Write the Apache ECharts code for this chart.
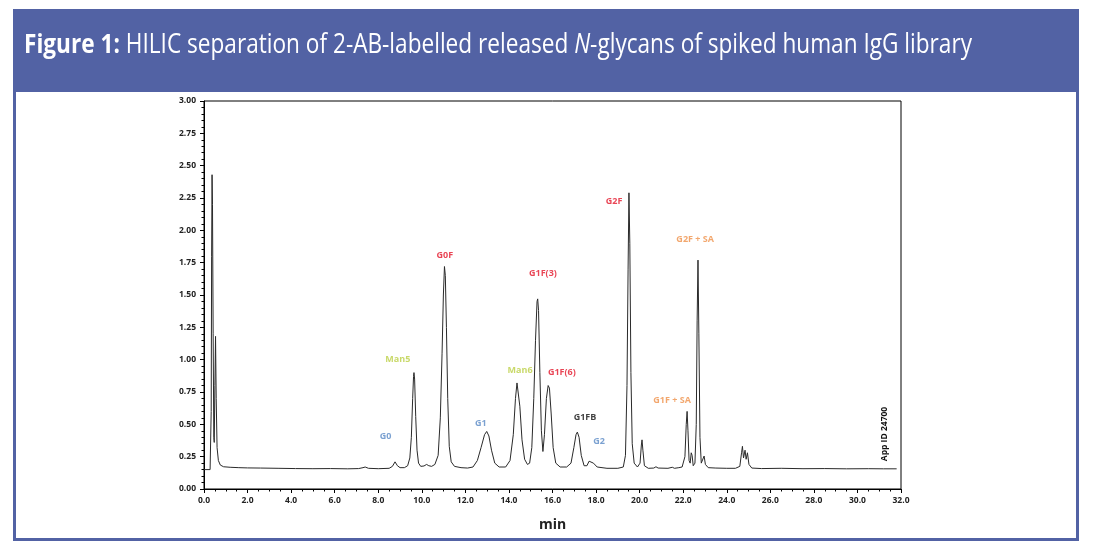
<!DOCTYPE html>
<html><head><meta charset="utf-8">
<script src="https://cdn.jsdelivr.net/npm/echarts@6/dist/echarts.min.js"></script>
<style>html,body{margin:0;padding:0;background:#fff}#c{width:1094px;height:550px}</style>
</head><body><div id="c"></div>
<script>
// Retention time (min)
const times = [0.00,0.28,0.31,0.33,0.35,0.37,0.39,0.42,0.45,0.47,0.50,0.53,0.56,0.60,0.66,0.75,0.90,1.20,1.60,2.00,2.60,3.40,4.20,5.00,5.80,6.60,7.10,7.30,7.40,7.55,8.00,8.50,8.65,8.77,8.88,9.00,9.20,9.35,9.45,9.52,9.58,9.62,9.64,9.67,9.72,9.78,9.85,9.95,10.10,10.22,10.32,10.45,10.60,10.75,10.85,10.93,10.99,11.04,11.08,11.13,11.19,11.26,11.35,11.50,11.80,12.10,12.35,12.55,12.72,12.88,12.98,13.08,13.20,13.35,13.55,13.85,14.05,14.20,14.30,14.37,14.42,14.50,14.60,14.72,14.85,14.95,15.05,15.14,15.22,15.29,15.32,15.36,15.42,15.49,15.56,15.63,15.72,15.80,15.86,15.94,16.03,16.15,16.35,16.65,16.85,16.98,17.08,17.14,17.22,17.32,17.45,17.58,17.68,17.76,17.88,18.05,18.50,19.00,19.25,19.35,19.42,19.47,19.51,19.55,19.60,19.66,19.75,19.90,20.02,20.08,20.11,20.15,20.22,20.40,20.65,20.75,20.85,21.30,21.50,21.60,21.80,21.95,22.08,22.14,22.18,22.22,22.27,22.32,22.37,22.41,22.46,22.54,22.60,22.64,22.68,22.72,22.77,22.83,22.90,22.96,23.02,23.15,23.50,24.00,24.40,24.60,24.68,24.72,24.77,24.84,24.89,24.95,25.02,25.15,25.60,26.50,27.50,28.50,29.50,30.50,31.20,31.80];
// Fluorescence signal
const signal = [0.150,0.150,0.160,0.60,1.80,2.43,2.20,1.20,0.40,0.36,0.80,1.18,0.70,0.32,0.22,0.185,0.172,0.168,0.165,0.163,0.162,0.160,0.158,0.157,0.158,0.156,0.158,0.165,0.170,0.160,0.157,0.160,0.175,0.210,0.180,0.165,0.165,0.180,0.240,0.400,0.700,0.870,0.900,0.850,0.560,0.300,0.200,0.175,0.178,0.190,0.180,0.175,0.190,0.260,0.550,1.050,1.500,1.720,1.650,1.250,0.700,0.330,0.210,0.175,0.165,0.162,0.170,0.220,0.320,0.420,0.445,0.410,0.300,0.200,0.170,0.170,0.220,0.420,0.700,0.820,0.810,0.640,0.380,0.230,0.190,0.200,0.320,0.700,1.150,1.450,1.470,1.380,0.900,0.450,0.290,0.420,0.700,0.800,0.780,0.580,0.320,0.200,0.170,0.170,0.200,0.320,0.420,0.440,0.400,0.260,0.180,0.180,0.215,0.222,0.200,0.170,0.160,0.160,0.170,0.260,0.800,1.700,2.290,1.900,0.900,0.350,0.200,0.170,0.200,0.340,0.380,0.300,0.180,0.160,0.162,0.172,0.162,0.160,0.168,0.160,0.165,0.170,0.250,0.500,0.600,0.450,0.220,0.200,0.280,0.260,0.180,0.200,0.500,1.300,1.770,1.200,0.400,0.200,0.210,0.255,0.190,0.165,0.162,0.160,0.160,0.175,0.280,0.330,0.240,0.300,0.230,0.280,0.190,0.162,0.158,0.160,0.157,0.158,0.156,0.157,0.156,0.156];
// Peak annotations (text, time, signal position, colour group)
const peakNames  = ['G0','Man5','G0F','G1','Man6','G1F(3)','G1F(6)','G1FB','G2','G2F','G2F + SA','G1F + SA'];
const peakLabelT = [8.34,8.90,11.06,12.71,14.51,15.56,16.43,17.49,18.14,18.83,22.55,21.49];
const peakLabelV = [0.406,1.003,1.808,0.507,0.917,1.668,0.902,0.554,0.368,2.226,1.932,0.685];
const peakGroup  = ['blue','green','red','blue','green','red','red','black','blue','red','orange','orange'];
const xTicks = ['0.0','2.0','4.0','6.0','8.0','10.0','12.0','14.0','16.0','18.0','20.0','22.0','24.0','26.0','28.0','30.0','32.0'];

const groupColor = {blue:'#5a8ac6', green:'#bccf45', red:'#e3172a', black:'#111111', orange:'#ef914a'};
const frame = '#5262a4';

const chart = echarts.init(document.getElementById('c'), null, {renderer:'canvas'});

// title width fitting
const titleParts = [['Figure 1:','bold'],[' HILIC separation of 2-AB-labelled released ','normal'],['N','italic'],['-glycans of spiked human IgG library','normal']];
const TF = 27, TFam = '"Open Sans"';
const cx = document.createElement('canvas').getContext('2d');
let tw = 0;
titleParts.forEach(p=>{
  cx.font = (p[1]==='bold'?'bold ':p[1]==='italic'?'italic ':'') + TF + 'px ' + TFam;
  tw += cx.measureText(p[0]).width;
});
const sx = 948 / tw;

const lineData = times.map((t,i)=>[t, signal[i]]);
const labelData = peakNames.map((n,i)=>({
  value:[peakLabelT[i], peakLabelV[i]], name:n,
  label:{color: groupColor[peakGroup[i]]}
}));

chart.setOption({
  animation:false,
  backgroundColor:'#fff',
  grid:{left:204, right:193, top:101, bottom:61, show:true, borderColor:'#000', borderWidth:1},
  xAxis:{
    type:'value', min:0, max:32, interval:2,
    name:'min', nameLocation:'middle', nameGap:29,
    nameTextStyle:{fontFamily:TFam, fontWeight:'bold', fontSize:14, color:'#222'},
    axisLine:{show:true, onZero:false, lineStyle:{color:'#000', width:1}},
    axisTick:{show:true, length:4, lineStyle:{color:'#000'}},
    minorTick:{show:true, splitNumber:4, length:2.5, lineStyle:{color:'#000'}},
    splitLine:{show:false},
    axisLabel:{margin:7, fontFamily:TFam, fontWeight:'bold', fontSize:8.5, color:'#222',
      formatter:(v)=>xTicks[Math.round(v/2)] ?? ''}
  },
  yAxis:{
    type:'value', min:0, max:3, interval:0.25,
    axisLine:{show:true, onZero:false, lineStyle:{color:'#000', width:1}},
    axisTick:{show:true, length:4, lineStyle:{color:'#000'}},
    minorTick:{show:true, splitNumber:5, length:2.5, lineStyle:{color:'#000'}},
    splitLine:{show:false},
    axisLabel:{margin:8, fontFamily:TFam, fontWeight:'bold', fontSize:8.5, color:'#222',
      formatter:(v)=>v.toFixed(2)}
  },
  series:[
    {type:'line', data:lineData, showSymbol:false, symbol:'none',
     lineStyle:{color:'#2a2a2a', width:1}, silent:true, z:3},
    {type:'scatter', data:labelData, symbolSize:0, silent:true, z:4,
     label:{show:true, position:'inside', formatter:'{b}', fontFamily:TFam, fontWeight:'bold', fontSize:9}}
  ],
  graphic:[
    {type:'rect', shape:{x:13, y:9, width:1066, height:83}, style:{fill:frame}, z:10},
    {type:'rect', shape:{x:14.5, y:10.5, width:1063, height:529}, style:{fill:null, stroke:frame, lineWidth:3}, z:10},
    {type:'text', x:24, y:45, scaleX:sx, z:11,
     style:{
       text:'{b|Figure 1:}{n| HILIC separation of 2-AB-labelled released }{i|N}{n|-glycans of spiked human IgG library}',
       verticalAlign:'middle', align:'left',
       rich:{
         b:{fontFamily:TFam, fontSize:TF, fontWeight:'bold', fill:'#fff', verticalAlign:'middle'},
         n:{fontFamily:TFam, fontSize:TF, fontWeight:'normal', fill:'#fff', verticalAlign:'middle'},
         i:{fontFamily:TFam, fontSize:TF, fontStyle:'italic', fill:'#fff', verticalAlign:'middle'}
       }
     }},
    {type:'text', x:885, y:434, rotation:Math.PI/2, z:11,
     style:{text:'App ID 24700', fontFamily:TFam, fontWeight:'bold', fontSize:8.5, fill:'#111', align:'center', verticalAlign:'middle'}}
  ]
});
</script></body></html>
